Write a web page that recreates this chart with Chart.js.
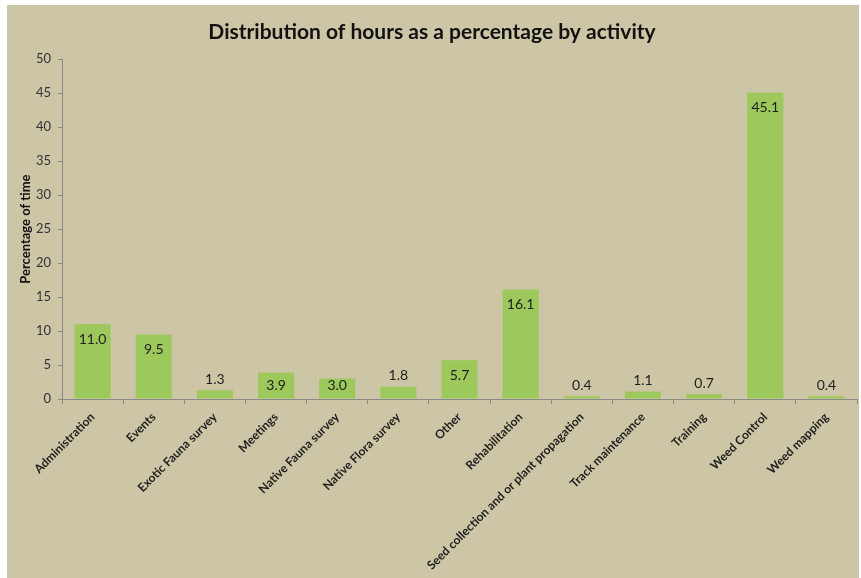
<!DOCTYPE html>
<html>
<head>
<meta charset="utf-8">
<script src="https://cdn.jsdelivr.net/npm/chart.js@4.4.0/dist/chart.umd.min.js"></script>
<style>
  html, body { margin: 0; padding: 0; background: #ffffff; }
  #wrap {
    position: absolute;
    left: 7px;
    top: 5px;
    width: 852px;
    height: 573px;
    background: #cdc6a6;
  }
</style>
</head>
<body>
<div id="wrap"><canvas id="chart"></canvas></div>
<script>
const activities = [
  "Administration",
  "Events",
  "Exotic Fauna survey",
  "Meetings",
  "Native Fauna survey",
  "Native Flora survey",
  "Other",
  "Rehabilitation",
  "Seed collection and or plant propagation",
  "Track maintenance",
  "Training",
  "Weed Control",
  "Weed mapping",
];
const percentTime = [11.0, 9.5, 1.3, 3.9, 3.0, 1.8, 5.7, 16.1, 0.4, 1.1, 0.7, 45.1, 0.4];
const yTicks = [0, 5, 10, 15, 20, 25, 30, 35, 40, 45, 50];

const fontFamily = "Lato, 'Open Sans', sans-serif";

// value labels: inside the bar top when it fits, otherwise just above it
const valueLabels = {
  id: "valueLabels",
  afterDatasetsDraw(chart) {
    const ctx = chart.ctx;
    const meta = chart.getDatasetMeta(0);
    ctx.save();
    ctx.font = "14px " + fontFamily;
    ctx.fillStyle = "#1e1e1e";
    ctx.textAlign = "center";
    ctx.textBaseline = "middle";
    meta.data.forEach((bar, i) => {
      const h = bar.base - bar.y;
      let y;
      if (h >= 18) y = Math.min(bar.y + 15, bar.base - 13);
      else y = bar.y - 11;
      ctx.fillText(percentTime[i].toFixed(1), bar.x, y);
    });
    ctx.restore();
  },
};

new Chart(document.getElementById("chart"), {
  type: "bar",
  data: {
    labels: activities,
    datasets: [
      {
        data: percentTime,
        backgroundColor: "#9dc85b",
        categoryPercentage: 1,
        barPercentage: 0.59,
      },
    ],
  },
  options: {
    responsive: true,
    maintainAspectRatio: false,
    animation: false,
    layout: { padding: { left: 0, right: 2, top: 0, bottom: 0 } },
    plugins: {
      legend: { display: false },
      tooltip: { enabled: false },
      title: {
        display: true,
        text: "Distribution of hours as a percentage by activity",
        color: "#111111",
        font: { family: fontFamily, size: 21, weight: "bold" },
        padding: { top: 15, bottom: 14 },
      },
    },
    scales: {
      x: {
        grid: {
          display: true,
          drawOnChartArea: false,
          drawTicks: true,
          tickLength: 5,
          color: "#8a8a8a",
          offset: true,
        },
        border: { color: "#8a8a8a", width: 1 },
        ticks: {
          autoSkip: false,
          minRotation: 45,
          maxRotation: 45,
          padding: 6,
          color: "#1e1e1e",
          font: { family: fontFamily, size: 12, weight: "bold" },
        },
        afterFit(scale) {
          scale.height = 179;
        },
      },
      y: {
        min: 0,
        max: 50,
        afterBuildTicks(scale) {
          scale.ticks = yTicks.map((v) => ({ value: v }));
        },
        grid: {
          display: true,
          drawOnChartArea: false,
          drawTicks: true,
          tickLength: 4,
          color: "#8a8a8a",
        },
        border: { color: "#8a8a8a", width: 1 },
        ticks: {
          padding: 7,
          color: "#333333",
          font: { family: fontFamily, size: 13 },
        },
        title: {
          display: true,
          text: "Percentage of time",
          color: "#111111",
          font: { family: fontFamily, size: 13, weight: "bold" },
          padding: { top: 11, bottom: 0 },
        },
        afterFit(scale) {
          scale.width = 55;
        },
      },
    },
  },
  plugins: [valueLabels],
});
</script>
</body>
</html>
